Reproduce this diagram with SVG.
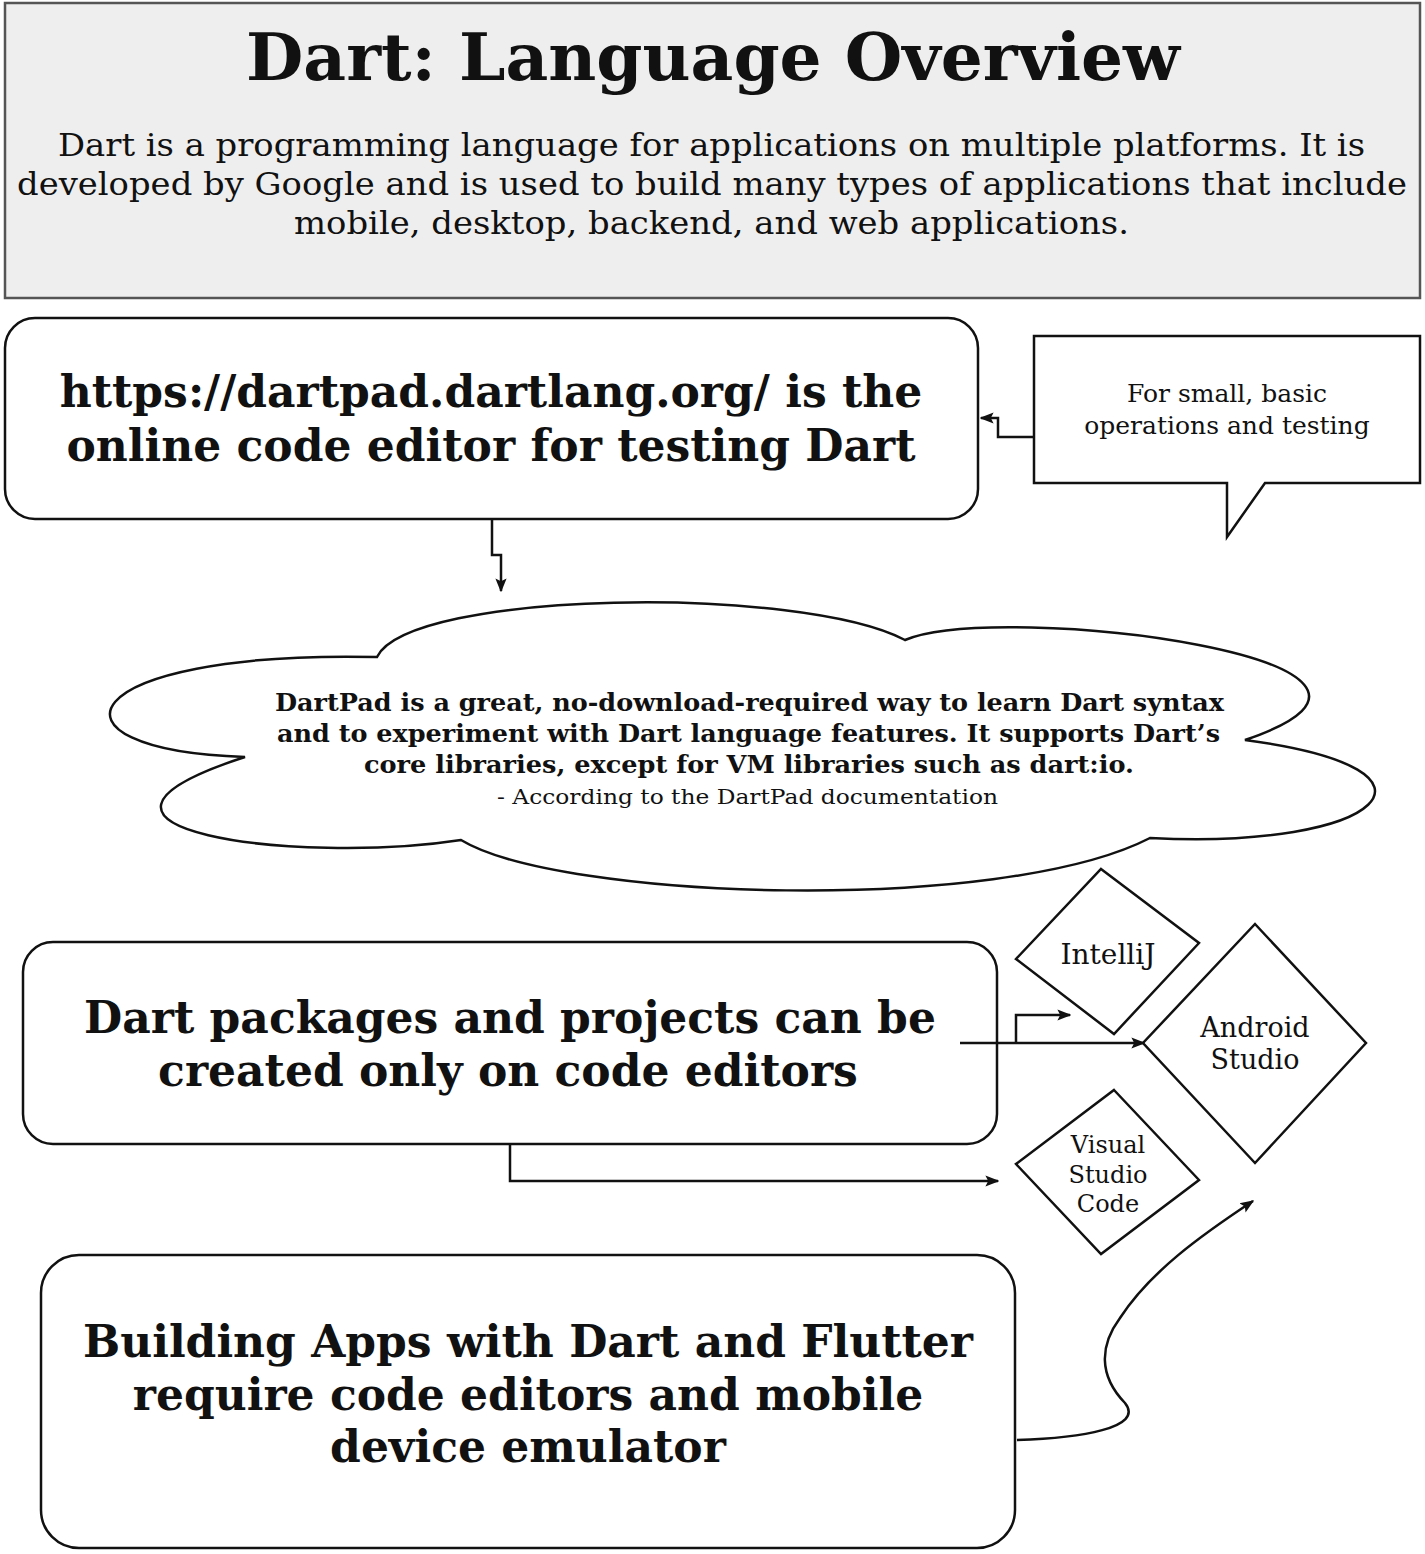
<svg xmlns="http://www.w3.org/2000/svg" width="1425" height="1554" viewBox="0 0 1425 1554">
<defs>
<style>
.shape{fill:#fff;stroke:#111;stroke-width:2.5}
.conn{fill:none;stroke:#111;stroke-width:2.5}
.big{font-family:"DejaVu Serif","Liberation Serif",serif;font-weight:bold;font-size:44px;fill:#111;text-anchor:middle}
.sm{font-family:"DejaVu Serif","Liberation Serif",serif;fill:#111;text-anchor:middle}
</style>
<marker id="ahb" viewBox="0 0 10 10" refX="9" refY="5" markerWidth="14" markerHeight="14" markerUnits="userSpaceOnUse" orient="auto">
<path d="M0 1 L10 5 L0 9 L2 5 Z" fill="#111"/>
</marker>
</defs>
<rect width="1425" height="1554" fill="#fff"/>

<g id="header">
<rect x="5" y="3" width="1415" height="295" fill="#eeeeee" stroke="#555" stroke-width="2.5"/>
<text x="713" y="80" class="sm" font-weight="bold" font-size="65" textLength="934" lengthAdjust="spacingAndGlyphs">Dart: Language Overview</text>
<text x="711.5" y="156" class="sm" font-size="31.5" fill="#222" textLength="1307" lengthAdjust="spacingAndGlyphs">Dart is a programming language for applications on multiple platforms. It is</text>
<text x="712" y="195" class="sm" font-size="31.5" fill="#222" textLength="1390" lengthAdjust="spacingAndGlyphs">developed by Google and is used to build many types of applications that include</text>
<text x="711.5" y="234" class="sm" font-size="31.5" fill="#222" textLength="835" lengthAdjust="spacingAndGlyphs">mobile, desktop, backend, and web applications.</text>
</g>

<g id="dartpad">
<rect x="5" y="318" width="973" height="201" rx="30" class="shape"/>
<text class="big"><tspan x="491" y="407">https://dartpad.dartlang.org/ is the</tspan><tspan x="491" y="461">online code editor for testing Dart</tspan></text>
</g>

<g id="callout">
<path d="M1034 336 H1420 V483 H1265 L1227 537 V483 H1034 Z" class="shape"/>
<text class="sm" font-size="25"><tspan x="1227" y="402">For small, basic</tspan><tspan x="1227" y="434">operations and testing</tspan></text>
</g>

<g id="cloud">
<path d="M377 657 C410 590 800 585 905 640 C1000 600 1480 660 1245 740 C1470 770 1380 850 1150 838 C1000 915 560 900 461 840 C300 865 20 830 245 757 C30 750 70 650 377 657 Z" class="shape"/>
<text x="749.5" y="711" class="sm" font-weight="bold" font-size="24.5" textLength="949" lengthAdjust="spacingAndGlyphs">DartPad is a great, no-download-required way to learn Dart syntax</text>
<text x="748.5" y="742" class="sm" font-weight="bold" font-size="24.5" textLength="943" lengthAdjust="spacingAndGlyphs">and to experiment with Dart language features. It supports Dart’s</text>
<text x="749" y="773" class="sm" font-weight="bold" font-size="24.5" textLength="770" lengthAdjust="spacingAndGlyphs">core libraries, except for VM libraries such as dart:io.</text>
<text x="747.5" y="804" class="sm" font-size="21" textLength="501" lengthAdjust="spacingAndGlyphs">- According to the DartPad documentation</text>
</g>

<g id="packages">
<rect x="23" y="942" width="974" height="202" rx="30" class="shape"/>
<text class="big"><tspan x="510" y="1033">Dart packages and projects can be</tspan><tspan x="508" y="1086">created only on code editors</tspan></text>
</g>

<g id="intellij">
<path d="M1101 869 L1199 943 L1114 1034 L1016 959 Z" class="shape"/>
<text x="1108" y="964" class="sm" font-size="28">IntelliJ</text>
</g>

<g id="android">
<path d="M1255 924 L1366 1043 L1255 1163 L1143 1043 Z" class="shape"/>
<text class="sm" font-size="27"><tspan x="1255" y="1037">Android</tspan><tspan x="1255" y="1069">Studio</tspan></text>
</g>

<g id="vscode">
<path d="M1114 1090 L1199 1180 L1101 1254 L1016 1164 Z" class="shape"/>
<text class="sm" font-size="24"><tspan x="1108" y="1153">Visual</tspan><tspan x="1108" y="1183">Studio</tspan><tspan x="1108" y="1212">Code</tspan></text>
</g>

<g id="building">
<rect x="41" y="1255" width="974" height="293" rx="38" class="shape"/>
<text class="big"><tspan x="528" y="1357">Building Apps with Dart and Flutter</tspan><tspan x="528" y="1410">require code editors and mobile</tspan><tspan x="528" y="1462">device emulator</tspan></text>
</g>

<g id="connectors">
<path d="M1034 437 H998 V418 H981" class="conn" marker-end="url(#ahb)"/>
<path d="M492 519 V555 H501 V591" class="conn" marker-end="url(#ahb)"/>
<path d="M960 1043 H1144" class="conn" marker-end="url(#ahb)"/>
<path d="M1016 1043 V1015 H1070" class="conn" marker-end="url(#ahb)"/>
<path d="M510 1144 V1181 H998" class="conn" marker-end="url(#ahb)"/>
<path d="M1017 1440 C1080 1438 1145 1428 1125 1403 C1098 1375 1100 1345 1120 1318 C1150 1272 1200 1236 1253 1201" class="conn" marker-end="url(#ahb)"/>
</g>
</svg>
